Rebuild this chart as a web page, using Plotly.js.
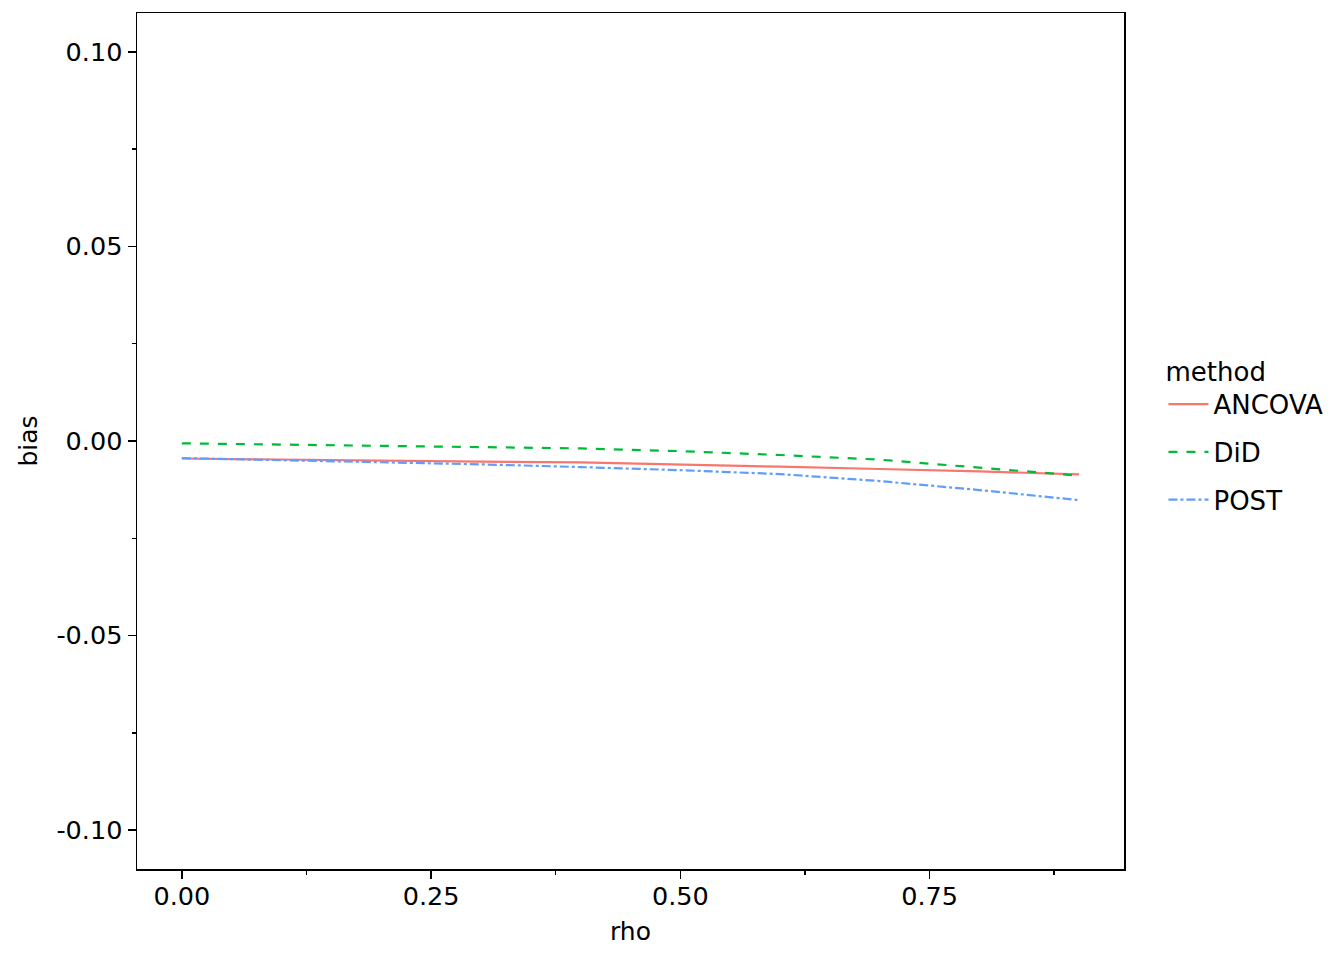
<!DOCTYPE html>
<html>
<head>
<meta charset="utf-8">
<script src="https://cdn.plot.ly/plotly-3.0.1.min.js"></script>
<style>
  body { margin: 0; background: #fff; }
  #chart { width: 1344px; height: 960px; }
</style>
</head>
<body>
<div id="chart"></div>
<script>
// rho grid and bias per method
var rho = [0, 0.1, 0.2, 0.3, 0.4, 0.5, 0.6, 0.7, 0.8, 0.9];
var ancova = [-0.0045, -0.0048, -0.0050, -0.0053, -0.0055, -0.0060, -0.0066, -0.0072, -0.0078, -0.0086];
var did = [-0.0006, -0.0009, -0.0012, -0.0015, -0.0019, -0.0026, -0.0036, -0.0048, -0.0068, -0.0089];
var post = [-0.0044, -0.0049, -0.0054, -0.0060, -0.0067, -0.0075, -0.0085, -0.0103, -0.0126, -0.0152];

var xTicks = [0, 0.25, 0.5, 0.75];
var xTickText = ['0.00', '0.25', '0.50', '0.75'];
var xMinor = [0.125, 0.375, 0.625, 0.875];
var yTicks = [-0.1, -0.05, 0, 0.05, 0.1];
var yTickText = ['-0.10', '-0.05', '0.00', '0.05', '0.10'];
var yMinor = [-0.075, -0.025, 0.025, 0.075];

var font = 'DejaVu Sans, sans-serif';

function series(name, y, color, dash, group) {
  return {
    x: rho, y: y, name: name, type: 'scatter', mode: 'lines',
    legendgroup: group,
    line: { color: color, width: 2.2, dash: dash }
  };
}

var data = [
  series('ANCOVA', ancova, '#F8766D', 'solid', 'a'),
  series('DiD', did, '#00BA38', 'dash', 'b'),
  series('POST', post, '#619CFF', 'dashdot', 'c')
];

function axis(range, vals, text, minor, title, standoff, labelGap) {
  return {
    range: range, tickmode: 'array', tickvals: vals, ticktext: text,
    ticks: 'outside', ticklen: 8, tickwidth: 1.5, tickcolor: 'black',
    ticklabelstandoff: labelGap,
    minor: { tickmode: 'array', tickvals: minor, ticks: 'outside', ticklen: 4,
             tickwidth: 1.5, tickcolor: 'black', showgrid: false },
    showgrid: false, zeroline: false,
    showline: true, mirror: true, linecolor: 'black', linewidth: 1.5,
    tickfont: { family: font, size: 25.5, color: 'black' },
    title: { text: title, font: { family: font, size: 25, color: 'black' }, standoff: standoff },
    automargin: false
  };
}

var layout = {
  width: 1344, height: 960,
  margin: { l: 137, r: 220, t: 13, b: 91 },
  paper_bgcolor: 'white', plot_bgcolor: 'white',
  xaxis: axis([-0.045, 0.945], xTicks, xTickText, xMinor, 'rho', 12, -4),
  yaxis: axis([-0.11, 0.11], yTicks, yTickText, yMinor, 'bias', 11, 0),
  legend: {
    x: 1.04, xanchor: 'left', y: 0.61, yanchor: 'top',
    font: { family: font, size: 26, color: 'black' },
    title: { text: 'method', font: { family: font, size: 26, color: 'black' } },
    itemwidth: 40,
    tracegroupgap: 11,
    bgcolor: 'rgba(0,0,0,0)'
  },
  showlegend: true
};

Plotly.newPlot('chart', data, layout, { staticPlot: true });
</script>
</body>
</html>
